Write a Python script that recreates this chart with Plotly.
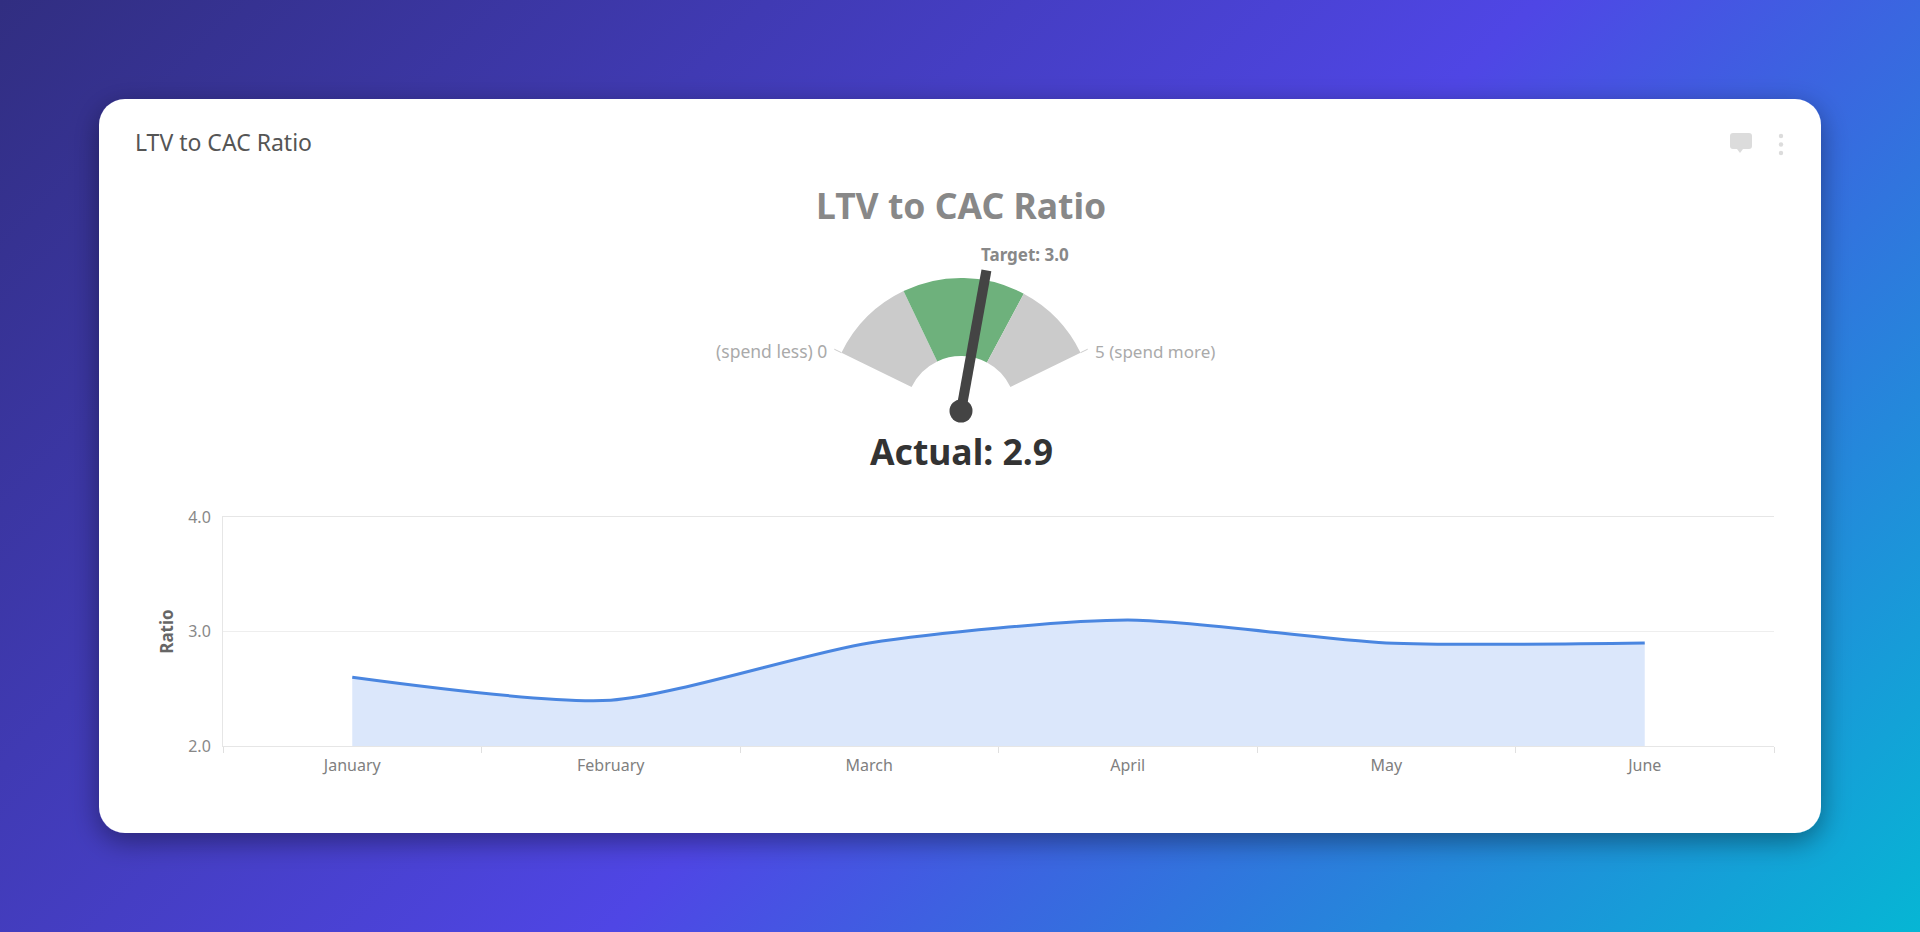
import base64
import plotly.graph_objects as go

# ---- data ----
months = ["January", "February", "March", "April", "May", "June"]
ratio = [2.6, 2.4, 2.9, 3.1, 2.9, 2.9]
y_ticks = [2, 3, 4]
gauge_min = 0
gauge_max = 5
band_edges = [0, 1.5, 3.6, 5]
actual = 2.9
target = 3.0
title_text = "LTV to CAC Ratio"

# ---- page geometry (pixels) ----
W, H = 1920, 932
GX, GY = 961, 411          # gauge pivot
G_BOX = 160
R_IN, R_OUT, R_NEEDLE = 55, 133, 143
A_START, A_SPAN = 154, 128


def angle(v):
    return A_START - (v - gauge_min) / (gauge_max - gauge_min) * A_SPAN


svg = f"""<svg xmlns="http://www.w3.org/2000/svg" width="{W}" height="{H}" viewBox="0 0 {W} {H}">
<defs>
<linearGradient id="g" gradientUnits="userSpaceOnUse" x1="0" y1="0" x2="1426" y2="1426">
<stop offset="0" stop-color="#312e81"/><stop offset="0.54" stop-color="#4f46e5"/><stop offset="1" stop-color="#06b6d4"/>
</linearGradient>
<filter id="s" x="-10%" y="-20%" width="120%" height="140%"><feDropShadow dx="0" dy="8" stdDeviation="14" flood-color="#000" flood-opacity="0.4"/></filter>
</defs>
<rect width="{W}" height="{H}" fill="url(#g)"/>
<rect x="99" y="99" width="1722" height="734" rx="26" ry="26" fill="#ffffff" filter="url(#s)"/>
<path d="M1733 133h16a3 3 0 0 1 3 3v10a3 3 0 0 1-3 3h-6l-3 4-3-4h-4a3 3 0 0 1-3-3v-10a3 3 0 0 1 3-3z" fill="#dcdcdc"/>
<circle cx="1781" cy="136" r="2.2" fill="#dcdcdc"/><circle cx="1781" cy="144.5" r="2.2" fill="#dcdcdc"/><circle cx="1781" cy="153" r="2.2" fill="#dcdcdc"/>
</svg>"""
bg_uri = "data:image/svg+xml;base64," + base64.b64encode(svg.encode()).decode()

fig = go.Figure()

# area spline
fig.add_trace(go.Scatter(
    x=months, y=ratio, mode="lines", fill="tozeroy",
    line=dict(color="#4a86e0", width=3, shape="spline", smoothing=0.7),
    fillcolor="#dbe7fb", hoverinfo="x+y", xaxis="x", yaxis="y",
))

# gauge bands
lows, highs = band_edges[:-1], band_edges[1:]
fig.add_trace(go.Barpolar(
    r=[R_OUT - R_IN] * len(lows), base=[R_IN] * len(lows),
    theta=[(angle(a) + angle(b)) / 2 for a, b in zip(lows, highs)],
    width=[angle(a) - angle(b) for a, b in zip(lows, highs)],
    marker=dict(color=["#cbcbcb", "#6eb17c", "#cbcbcb"], line=dict(width=0)),
    hoverinfo="skip", subplot="polar",
))
# end ticks
for v in (gauge_min, gauge_max):
    fig.add_trace(go.Scatterpolar(
        r=[R_OUT, R_OUT + 8], theta=[angle(v)] * 2, mode="lines",
        line=dict(color="#cccccc", width=1), hoverinfo="skip", subplot="polar",
    ))
# needle
fig.add_trace(go.Scatterpolar(
    r=[0, R_NEEDLE], theta=[angle(actual)] * 2, mode="lines",
    line=dict(color="#444444", width=10), hoverinfo="skip", subplot="polar",
))
fig.add_trace(go.Scatterpolar(
    r=[0], theta=[angle(actual)], mode="markers",
    marker=dict(color="#444444", size=23), hoverinfo="skip", subplot="polar",
))


def note(text, px, py, size, color, anchor="center", bold=False):
    return dict(
        text=f"<b>{text}</b>" if bold else text,
        x=px / W, y=1 - py / H, xref="paper", yref="paper",
        xanchor=anchor, yanchor="middle", showarrow=False,
        font=dict(size=size, color=color, family="Noto Sans"),
    )


annotations = [
    note(title_text, 133, 142, 23, "#555555", "left"),
    note(title_text, 961, 205, 35.5, "#888888", bold=True),
    note(f"Target: {target:.1f}", 1025, 255, 17, "#888888", bold=True),
    note(f"(spend less) {gauge_min}", 829, 351, 17.5, "#aaaaaa", "right"),
    note(f"{gauge_max} (spend more)", 1093, 351, 17, "#aaaaaa", "left"),
    note(f"Actual: {actual:.1f}", 961, 451, 35.5, "#333333", bold=True),
]

fig.update_layout(
    width=W, height=H,
    margin=dict(l=0, r=0, t=0, b=0, pad=0, autoexpand=False),
    paper_bgcolor="rgba(0,0,0,0)", plot_bgcolor="rgba(0,0,0,0)",
    showlegend=False, autosize=False,
    font=dict(family="Noto Sans", color="#777777"),
    images=[dict(source=bg_uri, xref="paper", yref="paper", x=0, y=1,
                 sizex=1, sizey=1, sizing="stretch", layer="below",
                 xanchor="left", yanchor="top")],
    annotations=annotations,
    xaxis=dict(
        domain=[223 / W, 1774 / W], type="category", categoryorder="array",
        categoryarray=months, range=[-0.5, 5.5], tickson="boundaries",
        ticks="outside", ticklen=6, tickcolor="#e0e0e0", showline=True, mirror=True,
        linecolor="#e6e6e6", showgrid=False, zeroline=False, ticklabelstandoff=5,
        tickfont=dict(size=16, color="#808080"), anchor="y", fixedrange=True,
    ),
    yaxis=dict(
        domain=[1 - 746 / H, 1 - 517 / H], range=[2, 4],
        tickvals=y_ticks, tickformat=".1f", showline=True, linecolor="#e6e6e6",
        gridcolor="#eeeeee", zeroline=False, ticks="", ticklabelstandoff=8,
        tickfont=dict(size=16, color="#888888"), anchor="x", fixedrange=True,
        title=dict(text="<b>Ratio</b>", standoff=10, font=dict(size=17, color="#666666")),
    ),
    polar=dict(
        domain=dict(x=[(GX - G_BOX) / W, (GX + G_BOX) / W],
                    y=[1 - (GY + G_BOX) / H, 1 - (GY - G_BOX) / H]),
        bgcolor="rgba(0,0,0,0)",
        radialaxis=dict(visible=False, range=[0, G_BOX]),
        angularaxis=dict(visible=False, direction="counterclockwise", rotation=0),
    ),
)

fig.write_html(
    "out.html",
    config=dict(displayModeBar=False),
    post_script="document.body.style.margin='0';document.body.style.overflow='hidden';",
)
